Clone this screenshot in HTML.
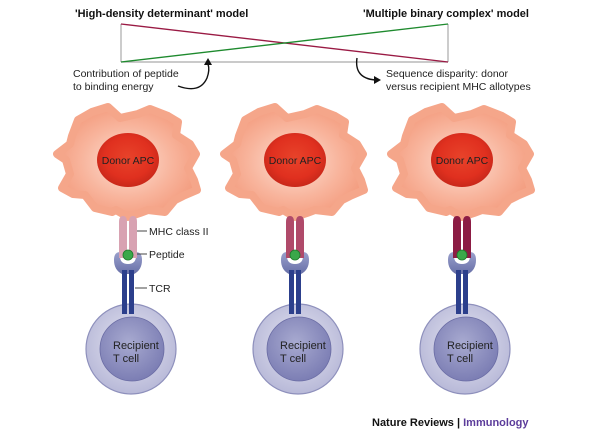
<!DOCTYPE html>
<html><head><meta charset="utf-8"><style>
html,body{margin:0;padding:0;background:#fff;}
svg{display:block;font-family:"Liberation Sans",Arial,sans-serif;}
</style></head><body>
<svg width="600" height="433" viewBox="0 0 600 433" xmlns="http://www.w3.org/2000/svg">
<defs>
<radialGradient id="apc" cx="50%" cy="50%" r="55%">
<stop offset="0" stop-color="#fde0d4"/><stop offset="0.6" stop-color="#f8b49c"/><stop offset="1" stop-color="#f39a7c"/>
</radialGradient>
<radialGradient id="nuc" cx="50%" cy="45%" r="55%">
<stop offset="0" stop-color="#e8432a"/><stop offset="0.7" stop-color="#e0301f"/><stop offset="1" stop-color="#c8281a"/>
</radialGradient>
<radialGradient id="tc" cx="50%" cy="45%" r="55%">
<stop offset="0" stop-color="#e6e6f2"/><stop offset="1" stop-color="#b8b9d8"/>
</radialGradient>
<radialGradient id="tn" cx="45%" cy="40%" r="60%">
<stop offset="0" stop-color="#a8aad0"/><stop offset="1" stop-color="#7c7eb4"/>
</radialGradient>
<linearGradient id="cup" x1="0" y1="0" x2="0" y2="1">
<stop offset="0" stop-color="#9aa0cc"/><stop offset="1" stop-color="#6870a8"/>
</linearGradient>
<g id="apcshape">
<polygon points="-36,-50 -20,-55 -8,-44 10,-48 22,-53 40,-46 50,-40 48,-27 62,-18 68,-8 60,6 66,18 69,28 55,34 47,38 37,50 20,48 12,51 0,55 -12,48 -16,50 -33,46 -43,33 -55,32 -66,26 -58,12 -62,-2 -71,-8 -58,-18 -56,-26 -50,-42" fill="url(#apc)" stroke="#f5a68a" stroke-width="8" stroke-linejoin="round"/>
<ellipse cx="0" cy="-2" rx="31" ry="27" fill="url(#nuc)"/>
<text x="0" y="2" font-size="10.5" text-anchor="middle" fill="#222">Donor APC</text>
</g>
<g id="tcell">
<circle cx="0" cy="0" r="45" fill="url(#tc)" stroke="#8e90bc" stroke-width="1.2"/>
<circle cx="1" cy="0" r="32" fill="url(#tn)" stroke="#6a6ca4" stroke-width="0.8"/>
<text x="-18" y="0" font-size="11" fill="#222">Recipient</text>
<text x="-18" y="13" font-size="11" fill="#222">T cell</text>
</g>
<g id="tcr">
<path d="M-14,-2 Q-14,-10 -8,-10 L-8,-6 Q-8,2 0,2 Q8,2 8,-6 L8,-10 Q14,-10 14,-2 Q14,8 6,12 L-6,12 Q-14,8 -14,-2 Z" fill="url(#cup)"/>
<rect x="-6" y="8" width="5" height="44" fill="#2c3f8c"/>
<rect x="1" y="8" width="5" height="44" fill="#2c3f8c"/>
</g>
</defs>

<text x="75" y="17" font-size="11" font-weight="bold" fill="#111">'High-density determinant' model</text>
<text x="363" y="17" font-size="11" font-weight="bold" fill="#111">'Multiple binary complex' model</text>
<line x1="121" y1="24" x2="121" y2="62" stroke="#aaa" stroke-width="1.2"/>
<line x1="448" y1="24" x2="448" y2="62" stroke="#aaa" stroke-width="1.2"/>
<line x1="121" y1="62" x2="448" y2="62" stroke="#aaa" stroke-width="1.2"/>
<line x1="121" y1="24" x2="448" y2="62" stroke="#9a1a44" stroke-width="1.3"/>
<line x1="121" y1="62" x2="448" y2="24" stroke="#1e8a2e" stroke-width="1.3"/>
<text x="73" y="77" font-size="10.5" fill="#222">Contribution of peptide</text>
<text x="73" y="90" font-size="10.5" fill="#222">to binding energy</text>
<text x="386" y="77" font-size="10.5" fill="#222">Sequence disparity: donor</text>
<text x="386" y="90" font-size="10.5" fill="#222">versus recipient MHC allotypes</text>
<path d="M178,86 Q200,94 207,78 Q210,70 208,64" fill="none" stroke="#111" stroke-width="1.4"/>
<polygon points="208,58 204,65 212,65" fill="#111"/>
<path d="M357,58 Q354,78 375,80" fill="none" stroke="#111" stroke-width="1.4"/>
<polygon points="381,80 374,76 374,84" fill="#111"/>

<g transform="translate(128,162)"><use href="#apcshape"/></g>
<g transform="translate(295,162)"><use href="#apcshape"/></g>
<g transform="translate(462,162)"><use href="#apcshape"/></g>

<g transform="translate(131,349)"><use href="#tcell"/></g>
<g transform="translate(298,349)"><use href="#tcell"/></g>
<g transform="translate(465,349)"><use href="#tcell"/></g>

<g transform="translate(128,0)">
<use href="#tcr" transform="translate(0,262)"/>
<path d="M-9,258 L-9,222 Q-9,216 -5,216 Q-1,216 -1,222 L-1,258 Z" fill="#d8a2b2"/>
<path d="M1,258 L1,222 Q1,216 5,216 Q9,216 9,222 L9,258 Z" fill="#d8a2b2"/>
<circle cx="0" cy="255" r="5" fill="#3aa84a" stroke="#1e7a2a" stroke-width="0.8"/>
</g>
<g transform="translate(295,0)">
<use href="#tcr" transform="translate(0,262)"/>
<path d="M-9,258 L-9,222 Q-9,216 -5,216 Q-1,216 -1,222 L-1,258 Z" fill="#b04a6a"/>
<path d="M1,258 L1,222 Q1,216 5,216 Q9,216 9,222 L9,258 Z" fill="#b04a6a"/>
<circle cx="0" cy="255" r="5" fill="#3aa84a" stroke="#1e7a2a" stroke-width="0.8"/>
</g>
<g transform="translate(462,0)">
<use href="#tcr" transform="translate(0,262)"/>
<path d="M-9,258 L-9,222 Q-9,216 -5,216 Q-1,216 -1,222 L-1,258 Z" fill="#8c1c44"/>
<path d="M1,258 L1,222 Q1,216 5,216 Q9,216 9,222 L9,258 Z" fill="#8c1c44"/>
<circle cx="0" cy="255" r="5" fill="#3aa84a" stroke="#1e7a2a" stroke-width="0.8"/>
</g>

<line x1="137" y1="231" x2="147" y2="231" stroke="#444"/>
<text x="149" y="235" font-size="10.5" fill="#222">MHC class II</text>
<line x1="137" y1="254" x2="147" y2="254" stroke="#444"/>
<text x="149" y="258" font-size="10.5" fill="#222">Peptide</text>
<line x1="135" y1="288" x2="147" y2="288" stroke="#444"/>
<text x="149" y="292" font-size="10.5" fill="#222">TCR</text>

<text x="372" y="426" font-size="11" font-weight="bold" fill="#111">Nature Reviews | <tspan fill="#5b3b9a">Immunology</tspan></text>
</svg>
</body></html>
